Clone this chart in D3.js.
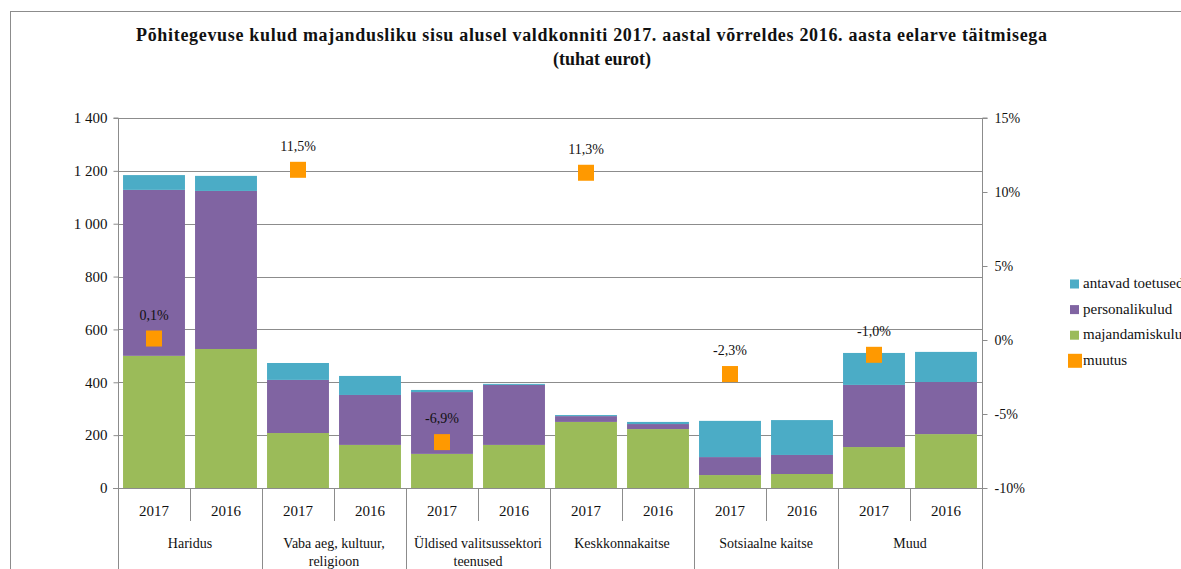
<!DOCTYPE html>
<html>
<head>
<meta charset="utf-8">
<script src="https://cdn.jsdelivr.net/npm/d3@7"></script>
<style>
  body { margin: 0; background: #fff; }
  svg { display: block; font-family: "Liberation Serif", "DejaVu Serif", serif; }
</style>
</head>
<body>
<svg id="chart" width="1181" height="569"></svg>
<script>
// data
const groups = ['Haridus', 'Vaba aeg, kultuur, religioon', 'Üldised valitsussektori teenused', 'Keskkonnakaitse', 'Sotsiaalne kaitse', 'Muud'];
const groupLines = [['Haridus'], ['Vaba aeg, kultuur,', 'religioon'], ['Üldised valitsussektori', 'teenused'], ['Keskkonnakaitse'], ['Sotsiaalne kaitse'], ['Muud']];
const years = ['2017', '2016'];
const majandamiskulud = [500, 526, 208, 163, 129, 163, 250, 223, 49, 53, 155, 204];
const personalikulud = [628, 598, 201, 189, 234, 227, 22, 19, 68, 72, 235, 197];
const antavadToetused = [56, 57, 64, 72, 8, 4, 4, 8, 137, 132, 121, 114];
const muutus = [0.1, 11.5, -6.9, 11.3, -2.3, -1.0];
const muutusLabels = ['0,1%', '11,5%', '-6,9%', '11,3%', '-2,3%', '-1,0%'];
const leftTicks = [0, 200, 400, 600, 800, 1000, 1200, 1400];
const rightTicks = [-10, -5, 0, 5, 10, 15];

const seriesKeys = ['majandamiskulud', 'personalikulud', 'antavad toetused'];
const colors = { 'majandamiskulud': '#9BBB59', 'personalikulud': '#8064A2', 'antavad toetused': '#4BACC6', 'muutus': '#FF9900' };

const rows = [];
groups.forEach((g, gi) => years.forEach((yr, yi) => {
  const i = gi * 2 + yi;
  rows.push({ key: g + '|' + yr, group: g, year: yr,
    'majandamiskulud': majandamiskulud[i], 'personalikulud': personalikulud[i], 'antavad toetused': antavadToetused[i] });
}));

const svg = d3.select('#chart');
const pLeft = 118, pRight = 982, pTop = 118, pBottom = 488;
const grid = '#8c8c8c';
const ink = '#111';

const x = d3.scaleBand().domain(rows.map(d => d.key)).range([pLeft, pRight]).paddingInner(0.14).paddingOuter(0.07);
const y = d3.scaleLinear().domain([0, 1400]).range([pBottom, pTop]);
const y2 = d3.scaleLinear().domain([-10, 15]).range([pBottom, pTop]);

// frame
svg.append('rect').attr('x', 10.5).attr('y', 11.5).attr('width', 1200).attr('height', 600)
  .attr('fill', 'none').attr('stroke', '#8c8c8c');

// title
svg.append('text').attr('x', 591.5).attr('y', 41).attr('text-anchor', 'middle')
  .attr('font-size', 18).attr('font-weight', 'bold').attr('fill', ink)
  .attr('textLength', 911).attr('lengthAdjust', 'spacing')
  .text('Põhitegevuse kulud majandusliku sisu alusel valdkonniti 2017. aastal võrreldes 2016. aasta eelarve täitmisega');
svg.append('text').attr('x', 602).attr('y', 65).attr('text-anchor', 'middle')
  .attr('font-size', 18).attr('font-weight', 'bold').attr('fill', ink).text('(tuhat eurot)');

// gridlines
svg.append('g').selectAll('line').data(leftTicks.filter(d => d > 0)).join('line')
  .attr('x1', pLeft).attr('x2', pRight).attr('y1', d => Math.round(y(d)) + 0.5).attr('y2', d => Math.round(y(d)) + 0.5)
  .attr('stroke', grid).attr('stroke-width', 1);

// stacked bars
const stack = d3.stack().keys(seriesKeys)(rows);
svg.append('g').selectAll('g').data(stack).join('g')
  .attr('fill', s => colors[s.key])
  .selectAll('rect').data(s => s).join('rect')
  .attr('x', d => x(d.data.key))
  .attr('width', x.bandwidth())
  .attr('y', d => y(d[1]))
  .attr('height', d => y(d[0]) - y(d[1]));

// left axis
const yAxis = d3.axisLeft(y).tickValues(leftTicks).tickSize(5).tickPadding(6)
  .tickFormat(d => d3.format(',')(d).replace(/,/g, ' '));
const ga = svg.append('g').attr('transform', `translate(${pLeft + 0.5},0)`).call(yAxis);
ga.attr('font-family', null);
ga.select('.domain').attr('stroke', grid).attr('d', `M-5,${pTop}H0V569`);
ga.selectAll('.tick line').attr('stroke', grid);
ga.selectAll('.tick text').attr('font-size', 15).attr('fill', ink);

// right axis
const yAxis2 = d3.axisRight(y2).tickValues(rightTicks).tickSize(5).tickPadding(7).tickFormat(d => d + '%');
const gr = svg.append('g').attr('transform', `translate(${pRight + 0.5},0)`).call(yAxis2);
gr.attr('font-family', null);
gr.select('.domain').attr('stroke', grid).attr('d', `M5,${pTop}H0V569`);
gr.selectAll('.tick line').attr('stroke', grid);
gr.selectAll('.tick text').attr('font-size', 14).attr('fill', ink);

// bottom axis line
svg.append('line').attr('x1', pLeft - 5).attr('x2', pRight + 5).attr('y1', pBottom + 0.5).attr('y2', pBottom + 0.5)
  .attr('stroke', grid);

// category separators
const bandEdges = d3.range(1, rows.length).map(i => pLeft + i * (pRight - pLeft) / rows.length);
svg.append('g').selectAll('line').data(bandEdges).join('line')
  .attr('x1', d => Math.round(d) + 0.5).attr('x2', d => Math.round(d) + 0.5)
  .attr('y1', pBottom).attr('y2', (d, i) => (i % 2 === 1) ? 569 : 521)
  .attr('stroke', grid);

// year labels
svg.append('g').selectAll('text').data(rows).join('text')
  .attr('x', d => x(d.key) + x.bandwidth() / 2).attr('y', 516)
  .attr('text-anchor', 'middle').attr('font-size', 15).attr('fill', ink)
  .text(d => d.year);

// group labels
const groupCenter = gi => (x(rows[gi * 2].key) + x(rows[gi * 2 + 1].key) + x.bandwidth()) / 2;
const gl = svg.append('g').selectAll('text').data(groupLines).join('text')
  .attr('x', (d, i) => groupCenter(i)).attr('y', 548)
  .attr('text-anchor', 'middle').attr('font-size', 14).attr('fill', ink);
gl.selectAll('tspan').data(d => d).join('tspan')
  .attr('x', function () { return d3.select(this.parentNode).attr('x'); })
  .attr('dy', (d, i) => i === 0 ? 0 : 18)
  .text(d => d);

// muutus markers
const mx = gi => x(rows[gi * 2].key) + x.bandwidth() / 2;
svg.append('g').selectAll('rect').data(muutus).join('rect')
  .attr('x', (d, i) => mx(i) - 8).attr('y', d => y2(d) - 8)
  .attr('width', 16).attr('height', 16).attr('fill', colors['muutus']);
svg.append('g').selectAll('text').data(muutus).join('text')
  .attr('x', (d, i) => mx(i)).attr('y', d => y2(d) - 19)
  .attr('text-anchor', 'middle').attr('font-size', 14).attr('fill', ink)
  .text((d, i) => muutusLabels[i]);

// legend
const legendItems = ['antavad toetused', 'personalikulud', 'majandamiskulud', 'muutus'];
const lg = svg.append('g').selectAll('g').data(legendItems).join('g')
  .attr('transform', (d, i) => `translate(1070,${284 + i * 25.6})`);
lg.append('rect')
  .attr('x', d => d === 'muutus' ? -2 : 0).attr('y', d => d === 'muutus' ? -7 : -4.5)
  .attr('width', d => d === 'muutus' ? 14 : 9).attr('height', d => d === 'muutus' ? 14 : 9)
  .attr('fill', d => colors[d]);
lg.append('text').attr('x', 13).attr('y', 4).attr('font-size', 15).attr('fill', ink).text(d => d);
</script>
</body>
</html>
